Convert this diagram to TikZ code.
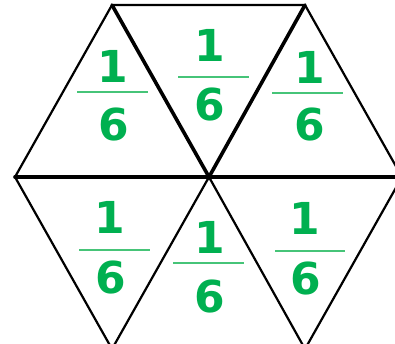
\documentclass[tikz,border=0pt]{standalone}
\usepackage{fontspec}
\newfontfamily\digitfont{DejaVu Sans Bold}
\definecolor{fgreen}{RGB}{0,176,80}
\definecolor{lgreen}{RGB}{70,196,120}
\begin{document}
\begin{tikzpicture}[x=1pt,y=-1pt,
  edge/.style={line width=2.2pt,line cap=round,line join=round},
  thick edge/.style={line width=3.6pt,line cap=round},
  digit/.style={text=fgreen,font=\digitfont\fontsize{44}{44}\selectfont,inner sep=0pt,anchor=center},
  fracbar/.style={draw=lgreen,line width=1.2pt}]
\useasboundingbox (0,0) rectangle (395,344);
\begin{scope}
\clip (0,0) rectangle (395,344);
\coordinate (L) at (15,177);
\coordinate (TL) at (112,5);
\coordinate (TR) at (305,5);
\coordinate (R) at (402,177);
\coordinate (BR) at (305,349);
\coordinate (BL) at (112,349);
\coordinate (C) at (209,177);
\draw[edge] (BL) -- (L) -- (TL) -- (TR) -- (R) -- (BR) -- (BL);
\draw[thick edge] (TL) -- (C) -- (TR);
\draw[thick edge] (L) -- (R);
\draw[edge] (BL) -- (C) -- (BR);
\end{scope}
% fractions
\node[digit] (n1) at (113,66) {1};
\node[digit] (d1) at (114,125) {6};
\draw[fracbar] (77,92) -- (148,92);
\node[digit] (n2) at (210,45) {1};
\node[digit] (d2) at (210,105) {6};
\draw[fracbar] (178,77) -- (249,77);
\node[digit] (n3) at (310,67) {1};
\node[digit] (d3) at (310,125) {6};
\draw[fracbar] (272,93) -- (343,93);
\node[digit] (n4) at (110,217) {1};
\node[digit] (d4) at (111,278) {6};
\draw[fracbar] (79,250) -- (150,250);
\node[digit] (n5) at (210,237) {1};
\node[digit] (d5) at (210,297) {6};
\draw[fracbar] (173,263) -- (244,263);
\node[digit] (n6) at (305,218) {1};
\node[digit] (d6) at (306,279) {6};
\draw[fracbar] (275,251) -- (345,251);
\end{tikzpicture}
\end{document}
